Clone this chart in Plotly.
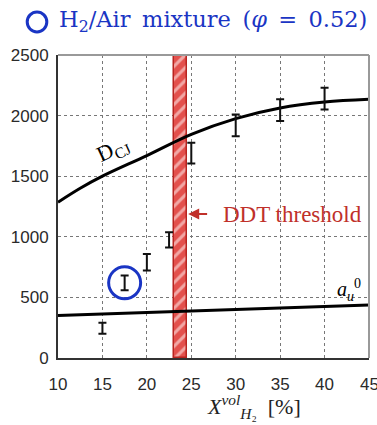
import plotly.graph_objects as go

# ---- data ----
x_tick_vals = [10, 15, 20, 25, 30, 35, 40, 45]
y_tick_vals = [0, 500, 1000, 1500, 2000, 2500]

exp_x = [15, 17.5, 20, 22.5, 25, 30, 35, 40]
exp_y = [245, 620, 790, 975, 1690, 1920, 2045, 2140]
exp_err = [45, 60, 68, 63, 85, 90, 90, 90]

highlight_x = [17.5]
highlight_y = [620]

dcj_x = [10, 12.5, 15, 20, 25, 30, 35, 40, 45]
dcj_y = [1285, 1400, 1500, 1670, 1845, 1975, 2063, 2112, 2135]

au_x = [10, 45]
au_y = [350, 437]

ddt_lo, ddt_hi = 23.0, 24.5
ddt_top = 2500

BLUE = "#1a35c4"
RED = "#c0302a"

fig = go.Figure()

# DDT threshold hatched band
fig.add_trace(go.Bar(
    x=[(ddt_lo + ddt_hi) / 2], y=[ddt_top], width=[ddt_hi - ddt_lo],
    marker=dict(color="#e3504c", line=dict(color="#b8231f", width=1.5),
                pattern=dict(shape="/", fgcolor="white", size=9, solidity=0.35,
                             fillmode="overlay")),
    showlegend=False, hoverinfo="skip"))

# DCJ curve
fig.add_trace(go.Scatter(x=dcj_x, y=dcj_y, mode="lines",
                         line=dict(color="black", width=3, shape="spline"),
                         showlegend=False))
# a_u^0 line
fig.add_trace(go.Scatter(x=au_x, y=au_y, mode="lines",
                         line=dict(color="black", width=3),
                         showlegend=False))
# experimental points with error bars
fig.add_trace(go.Scatter(x=exp_x, y=exp_y, mode="markers",
                         marker=dict(size=1, color="black", opacity=0),
                         error_y=dict(type="data", array=exp_err, visible=True,
                                      color="#111", thickness=2, width=4),
                         showlegend=False))
# highlighted point circle
fig.add_trace(go.Scatter(x=highlight_x, y=highlight_y, mode="markers",
                         marker=dict(size=32, symbol="circle-open",
                                     color=BLUE, line=dict(width=3, color=BLUE)),
                         showlegend=False))

tick_font = dict(family="Liberation Sans", size=17, color="#2a2a2a")
grid = dict(showgrid=True, gridcolor="#777", griddash="dot", gridwidth=1)
fig.update_xaxes(range=[10, 45], tickvals=x_tick_vals, **grid, automargin=False,
                 showline=True, linecolor="#333", linewidth=2,
                 zeroline=False, ticks="", ticklabelstandoff=10, tickfont=tick_font)
fig.update_yaxes(range=[0, 2500], tickvals=y_tick_vals, **grid, automargin=False,
                 showline=True, linecolor="#333", linewidth=2,
                 zeroline=False, ticks="", ticklabelstandoff=4, tickfont=tick_font)

# top/right frame in light grey
fig.add_shape(type="line", xref="paper", yref="paper", x0=0, x1=1, y0=1, y1=1,
              line=dict(color="#999", width=2))
fig.add_shape(type="line", xref="paper", yref="paper", x0=1, x1=1, y0=0, y1=1,
              line=dict(color="#999", width=2))

# title circle
fig.add_shape(type="circle", xref="paper", yref="paper",
              x0=-0.099, x1=-0.036, y0=1.076, y1=1.142,
              line=dict(color=BLUE, width=3))

title_txt = ("H<sub>2</sub>/Air\u2009 mixture\u2009 (<i>φ</i>\u2002=\u20020.52)")
annotations = [
    dict(text=title_txt, xref="paper", yref="paper",
         x=-0.003, y=1, xanchor="left", yanchor="middle", yshift=34, showarrow=False,
         font=dict(family="DejaVu Serif", size=22.5, color=BLUE)),
    dict(text="<i>X</i><sup><i>vol</i></sup><sub><i>H</i>₂</sub>  [%]", xref="paper", yref="paper",
         x=0.63, y=0, xanchor="center", yanchor="top", yshift=-31, showarrow=False,
         font=dict(family="Liberation Serif", size=22, color="#222")),
    # last x tick label, partly cut by the right edge as in the reference
    dict(text=str(x_tick_vals[-1]), x=x_tick_vals[-1], xref="x", y=0, yref="paper",
         xanchor="center", yanchor="middle", yshift=-26, showarrow=False,
         font=tick_font),
    dict(text="D<sub>CJ</sub>", x=16.2, y=1716, showarrow=False, textangle=-25,
         font=dict(family="Liberation Serif", size=22, color="black")),
    dict(text="<i>a</i><sub><i>u</i></sub><sup>0</sup>", x=42.8, y=560, showarrow=False,
         font=dict(family="Liberation Serif", size=20, color="black")),
    dict(text="DDT threshold", x=28.3, y=1188, xanchor="left", showarrow=False,
         font=dict(family="Liberation Serif", size=23, color=RED)),
    dict(text="", x=24.65, y=1188, ax=26.95, ay=1188, axref="x", ayref="y",
         showarrow=True, arrowhead=2, arrowsize=1, arrowwidth=2.2, arrowcolor=RED),
]
fig.update_layout(
    width=377, height=425, margin=dict(l=58, r=8, t=55, b=67),
    plot_bgcolor="white", paper_bgcolor="white",
    annotations=annotations, showlegend=False, bargap=0,
)
# remove the default page margin so the figure fills the window exactly
fig.write_html("out.html", config={"displayModeBar": False},
               post_script="document.body.style.margin='0';document.body.style.overflow='hidden';")
